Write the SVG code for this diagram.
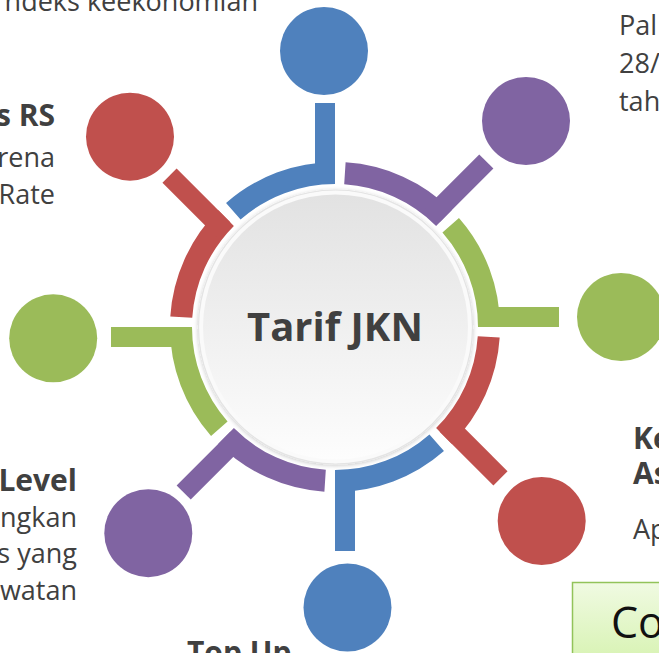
<svg xmlns="http://www.w3.org/2000/svg" width="659" height="653" viewBox="0 0 659 653">
<defs>
<linearGradient id="hubFill" x1="0" y1="0" x2="0" y2="1">
<stop offset="0" stop-color="#e2e2e2"/>
<stop offset="1" stop-color="#fdfdfd"/>
</linearGradient>
<linearGradient id="boxFill" x1="0" y1="0" x2="0" y2="1">
<stop offset="0" stop-color="#f0fae2"/>
<stop offset="1" stop-color="#d4f2ac"/>
</linearGradient>
<filter id="shadow" x="-10%" y="-10%" width="120%" height="120%">
<feDropShadow dx="0" dy="1" stdDeviation="2" flood-color="#000" flood-opacity="0.22"/>
</filter>
</defs>
<style>
.seg path{fill:none;stroke-width:22;stroke-linecap:butt}
.blue{fill:#4F81BD;stroke:#4F81BD}
.purple{fill:#8064A2;stroke:#8064A2}
.green{fill:#9BBB59;stroke:#9BBB59}
.red{fill:#C0504D;stroke:#C0504D}
.dot{stroke:none}
.t{font-family:"Open Sans","Liberation Sans",sans-serif;fill:#404040;font-size:27px}
.h{font-family:"Open Sans","Liberation Sans",sans-serif;fill:#404040;font-size:30px;font-weight:bold}
.e{text-anchor:end}
</style>
<rect width="659" height="653" fill="#ffffff"/>

<g id="connectors">
<g class="seg blue" transform="translate(335,327) rotate(270)"><path d="M115.7,-101.7 A154,154 0 0 1 154,0"/><rect x="148" y="-20" width="76" height="20" stroke="none"/></g>
<g class="seg purple" transform="translate(335,327) rotate(315)"><path d="M115.7,-101.7 A154,154 0 0 1 154,0"/><rect x="148" y="-20" width="76" height="20" stroke="none"/></g>
<g class="seg green" transform="translate(335,327) rotate(0)"><path d="M115.7,-101.7 A154,154 0 0 1 154,0"/><rect x="148" y="-20" width="76" height="20" stroke="none"/></g>
<g class="seg red" transform="translate(335,327) rotate(45)"><path d="M115.7,-101.7 A154,154 0 0 1 154,0"/><rect x="148" y="-20" width="76" height="20" stroke="none"/></g>
<g class="seg blue" transform="translate(335,327) rotate(90)"><path d="M115.7,-101.7 A154,154 0 0 1 154,0"/><rect x="148" y="-20" width="76" height="20" stroke="none"/></g>
<g class="seg purple" transform="translate(335,327) rotate(135)"><path d="M115.7,-101.7 A154,154 0 0 1 154,0"/><rect x="148" y="-20" width="76" height="20" stroke="none"/></g>
<g class="seg green" transform="translate(335,327) rotate(180)"><path d="M115.7,-101.7 A154,154 0 0 1 154,0"/><rect x="148" y="-20" width="76" height="20" stroke="none"/></g>
<g class="seg red" transform="translate(335,327) rotate(225)"><path d="M115.7,-101.7 A154,154 0 0 1 154,0"/><rect x="148" y="-20" width="76" height="20" stroke="none"/></g>
</g>

<g id="hub">
<circle cx="335.5" cy="327" r="137" fill="#fafafa" stroke="#e4e4e4" stroke-width="1.2" filter="url(#shadow)"/>
<circle cx="335.5" cy="327" r="132.5" fill="url(#hubFill)"/>
<text x="335" y="341" text-anchor="middle" font-family="'Open Sans','Liberation Sans',sans-serif" font-size="40" font-weight="bold" fill="#404040">Tarif JKN</text>
</g>

<g id="node-top"><circle class="blue dot" cx="324" cy="51" r="44"/></g>
<g id="node-upper-right"><circle class="purple dot" cx="526" cy="121" r="44"/></g>
<g id="node-right"><circle class="green dot" cx="621" cy="317" r="44"/></g>
<g id="node-lower-right"><circle class="red dot" cx="541.7" cy="521" r="44"/></g>
<g id="node-bottom"><circle class="blue dot" cx="347.5" cy="607.5" r="44"/></g>
<g id="node-lower-left"><circle class="purple dot" cx="148.3" cy="533.2" r="44"/></g>
<g id="node-left"><circle class="green dot" cx="53.2" cy="338.3" r="44"/></g>
<g id="node-upper-left"><circle class="red dot" cx="130" cy="136.7" r="44"/></g>

<g id="label-top-left">
<text class="t e" x="258" y="11">ndeks keekonomian</text>
</g>
<g id="label-rs">
<text class="h e" x="55" y="126">s RS</text>
<text class="t e" x="55" y="167">rena</text>
<text class="t e" x="55" y="204">Rate</text>
</g>
<g id="label-level">
<text class="h e" x="77" y="491">Level</text>
<text class="t e" x="77" y="527">ngkan</text>
<text class="t e" x="77" y="563">s yang</text>
<text class="t e" x="77" y="600">watan</text>
</g>
<g id="label-top-right">
<text class="t" x="619" y="35">Pal</text>
<text class="t" x="619" y="73">28/</text>
<text class="t" x="619" y="111">tah</text>
</g>
<g id="label-ke">
<text class="h" x="633" y="449">Ke</text>
<text class="h" x="633" y="484">As</text>
<text class="t" x="633" y="539">Ap</text>
</g>
<g id="label-topup">
<text class="h" x="187" y="663">Top Up</text>
</g>
<g id="box-co">
<rect x="572.5" y="582.5" width="110" height="90" fill="url(#boxFill)" stroke="#92c35a" stroke-width="1.5"/>
<text x="611" y="638" font-family="'Open Sans','Liberation Sans',sans-serif" font-size="43" fill="#111111">Co</text>
</g>
</svg>
